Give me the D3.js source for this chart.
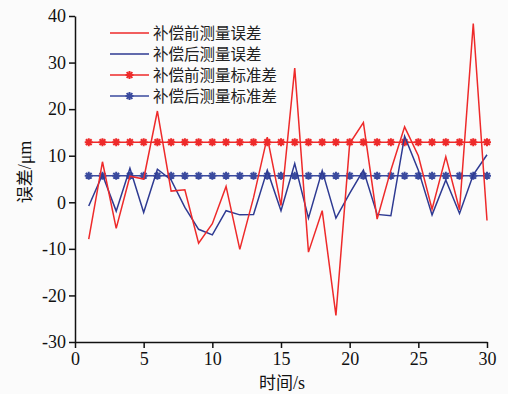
<!DOCTYPE html>
<html><head><meta charset="utf-8">
<script src="https://cdn.jsdelivr.net/npm/d3@7"></script>
<style>body{margin:0;background:#fbfbfb}svg{display:block}
.num{font-family:"Liberation Serif","Times New Roman","DejaVu Serif",serif}
.cjk{font-family:"Noto Sans CJK SC",sans-serif}</style>
</head><body><svg id="c" width="508" height="394"></svg>
<script>
const times = d3.range(1, 31);
const errBefore = [-7.9, 8.7, -5.6, 5.6, 5.0, 19.6, 2.4, 2.7, -8.8, -4.6, 3.4, -10.1, 1.0, 14.0, -0.7, 28.8, -10.7, -1.8, -24.3, 12.6, 17.1, -3.6, 6.9, 16.2, 10.0, -1.5, 9.8, -1.6, 38.4, -3.9];
const errAfter = [-0.8, 5.9, -1.9, 7.3, -2.2, 7.1, 4.8, -1.1, -5.8, -7.0, -1.8, -2.7, -2.6, 6.9, -1.8, 8.3, -3.4, 6.8, -3.4, 1.9, 6.9, -2.6, -2.9, 14.2, 6.9, -2.7, 4.8, -2.4, 5.9, 10.2];
const stdBefore = 12.9;
const stdAfter = 5.7;
const seriesNames = ["补偿前测量误差", "补偿后测量误差", "补偿前测量标准差", "补偿后测量标准差"];
const xTicks = [0, 5, 10, 15, 20, 25, 30];
const yTicks = [-30, -20, -10, 0, 10, 20, 30, 40];
const xLabelCjk = "时间", xLabelUnit = "/s";
const yLabelCjk = "误差", yLabelUnit = "/μm";

const RED = "#ee2a2a", BLUE = "#2e3a92", BLUE2 = "#3a4a9e";
const svg = d3.select("#c");
const x = d3.scaleLinear().domain([0, 30]).range([75, 487]);
const y = d3.scaleLinear().domain([-30, 40]).range([342, 16]);
const fmt = d => String(d);

const xa = svg.append("g").attr("transform", `translate(0,${y(-30)})`)
  .call(d3.axisBottom(x).tickValues(xTicks).tickFormat(fmt).tickSize(6).tickSizeOuter(0).tickPadding(4));
const ya = svg.append("g").attr("transform", `translate(${x(0)},0)`)
  .call(d3.axisLeft(y).tickValues(yTicks).tickFormat(fmt).tickSize(6).tickSizeOuter(0).tickPadding(3));
[xa, ya].forEach(a => {
  a.attr("font-family", null).attr("font-size", null);
  a.select(".domain").attr("stroke", "#111").attr("stroke-width", 1.5);
  a.selectAll(".tick line").attr("stroke", "#111").attr("stroke-width", 1.5);
  a.selectAll(".tick text").attr("class", "num").style("font-size", "18px").attr("fill", "#111");
});

const xl = svg.append("text").attr("x", 282).attr("y", 389).attr("text-anchor", "middle").attr("fill", "#111").style("font-size", "17px");
xl.append("tspan").attr("class", "cjk").text(xLabelCjk);
xl.append("tspan").attr("class", "num").style("font-size", "18px").text(xLabelUnit);
const yl = svg.append("text").attr("transform", "translate(31,172) rotate(-90)").attr("text-anchor", "middle").attr("fill", "#111").style("font-size", "17px");
yl.append("tspan").attr("class", "cjk").text(yLabelCjk);
yl.append("tspan").attr("class", "num").style("font-size", "18px").text(yLabelUnit);

const line = d3.line().x(d => x(d[0])).y(d => y(d[1]));
const starPath = s => {
  const r = s / 2, d = r * 0.72;
  return `M${-r},0L${r},0M0,${-r}L0,${r}M${-d},${-d}L${d},${d}M${-d},${d}L${d},${-d}`;
};

function stdSeries(val, color) {
  const pts = times.map(t => [t, val]);
  svg.append("path").attr("d", line(pts)).attr("fill", "none").attr("stroke", color).attr("stroke-width", 1.6);
  svg.append("g").selectAll("path").data(pts).join("path")
    .attr("transform", d => `translate(${x(d[0])},${y(d[1])})`)
    .attr("d", starPath(8)).attr("stroke", color).attr("stroke-width", 2).attr("fill", "none");
}
stdSeries(stdBefore, RED);
stdSeries(stdAfter, BLUE2);

svg.append("path").attr("d", line(times.map((t, i) => [t, errAfter[i]])))
  .attr("fill", "none").attr("stroke", BLUE).attr("stroke-width", 1.5);
svg.append("path").attr("d", line(times.map((t, i) => [t, errBefore[i]])))
  .attr("fill", "none").attr("stroke", RED).attr("stroke-width", 1.5);

const lg = svg.append("g");
const rowsY = [33, 54, 75, 96];
const colors = [RED, BLUE, RED, BLUE2];
seriesNames.forEach((name, i) => {
  lg.append("line").attr("x1", 110).attr("x2", 149).attr("y1", rowsY[i]).attr("y2", rowsY[i])
    .attr("stroke", colors[i]).attr("stroke-width", 1.6);
  if (i >= 2) lg.append("path").attr("transform", `translate(129.5,${rowsY[i]})`)
    .attr("d", starPath(8)).attr("stroke", colors[i]).attr("stroke-width", 2);
  lg.append("text").attr("class", "cjk").attr("x", 153).attr("y", rowsY[i]).attr("dy", "0.36em")
    .style("font-size", "15.5px").attr("fill", "#222").text(name);
});
</script></body></html>
